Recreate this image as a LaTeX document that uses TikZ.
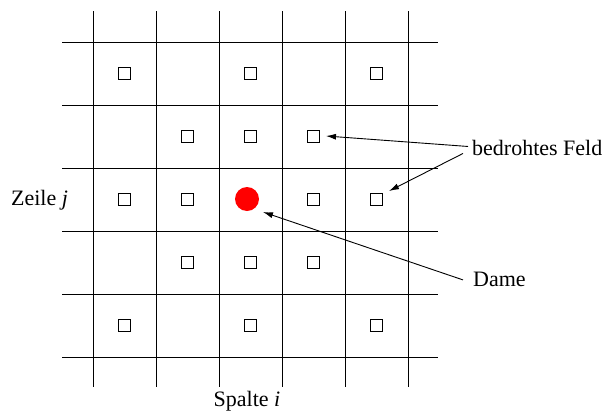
\documentclass[tikz,border=0pt]{standalone}
\usepackage{fontspec}
\setmainfont{Liberation Serif}
\usetikzlibrary{arrows.meta,calc}
\begin{document}
\begin{tikzpicture}[x=1pt,y=-1pt,
  gridline/.style={line width=1pt,black},
  feld/.style={draw,line width=0.9pt,minimum size=12pt,inner sep=0pt,outer sep=0pt},
  dame/.style={circle,fill=red,minimum size=24pt,inner sep=0pt},
  lbl/.style={font=\fontsize{22}{26}\selectfont,inner sep=0pt},
  arr/.style={line width=0.9pt,-{Latex[length=10pt,width=6pt]}}]
\useasboundingbox (0,0) rectangle (605,410);
% grid
\foreach \k in {0,...,5}{
  \draw[gridline] ({93+63*\k},11) -- ({93+63*\k},387);
  \draw[gridline] (62,{42+63*\k}) -- (438,{42+63*\k});
}
% threatened squares
\foreach \c/\r in {1/1,3/1,5/1,2/2,3/2,4/2,1/3,2/3,4/3,5/3,2/4,3/4,4/4,1/5,3/5,5/5}{
  \node[feld] (s\c\r) at ({124.5+63*(\c-1)},{73.5+63*(\r-1)}) {};
}
% queen
\node[dame] (q) at (247,199) {};
% labels
\node[lbl,anchor=base west] (bf) at (472,155) {bedrohtes Feld};
\node[lbl,anchor=base west] (dm) at (473,286) {Dame};
\node[lbl,anchor=base] (zj) at (39.5,205) {Zeile \textit{j}};
\node[lbl,anchor=base] (si) at (247,406) {Spalte \textit{i}};
% arrows
\coordinate (bf1) at ($(bf.west)+(-4,-1)$);
\coordinate (bf2) at ($(bf.west)+(-9,6)$);
\coordinate (dm1) at ($(dm.west)+(-10,1)$);
\draw[arr] (bf1) -- ($(s42)+(12.5,-0.5)$);
\draw[arr] (bf2) -- ($(s53)+(12.5,-8.5)$);
\draw[arr] (dm1) -- ($(q)+(16,13)$);
\end{tikzpicture}
\end{document}
